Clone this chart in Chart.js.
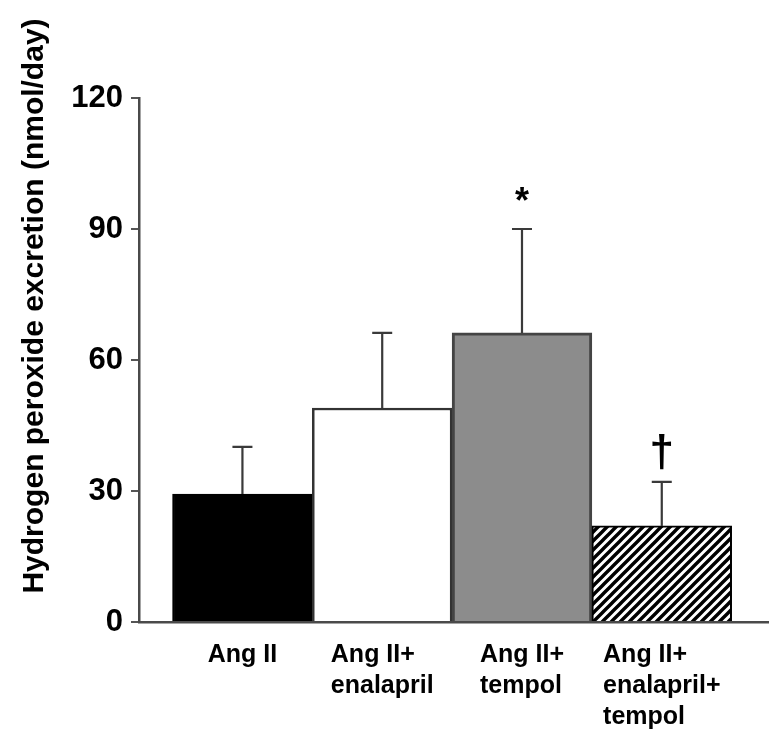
<!DOCTYPE html>
<html>
<head>
<meta charset="utf-8">
<script src="https://cdn.jsdelivr.net/npm/chart.js@4"></script>
<style>
  html, body { margin: 0; padding: 0; background: #fff; }
  #wrap { width: 784px; height: 744px; }
</style>
</head>
<body>
<div id="wrap"><canvas id="c" width="784" height="744"></canvas></div>
<script>
// ---- data ----
const categories = [
  ['Ang II'],
  ['Ang II+', 'enalapril'],
  ['Ang II+', 'tempol'],
  ['Ang II+', 'enalapril+', 'tempol']
];
const positions = [0, 1, 2, 3];
const means = [29.3, 49.0, 66.2, 22.0];
const errors = [10.8, 17.2, 23.8, 10.1];
const markers = ['', '', '*', '\u2020'];
const yTicks = [0, 30, 60, 90, 120];
const yTitle = 'Hydrogen peroxide excretion (nmol/day)';

// hatch pattern for last bar
function hatch() {
  const s = 9;
  const p = document.createElement('canvas');
  p.width = s; p.height = s;
  const g = p.getContext('2d');
  g.fillStyle = '#fff';
  g.fillRect(0, 0, s, s);
  g.strokeStyle = '#000';
  g.lineWidth = 3.4;
  g.beginPath();
  g.moveTo(-s, 2 * s); g.lineTo(2 * s, -s);
  g.moveTo(-s, s); g.lineTo(s, -s);
  g.moveTo(0, 2 * s); g.lineTo(2 * s, 0);
  g.stroke();
  return g.createPattern(p, 'repeat');
}
const ctx = document.getElementById('c').getContext('2d');
const fills = ['#000000', '#ffffff', '#8c8c8c', hatch()];
const borders = ['#000000', '#333333', '#444444', '#000000'];

const FONT = '"Liberation Sans", Arial, Helvetica, sans-serif';

function drawGlyph(c, txt, x, bottom) {
  const m = c.measureText(txt);
  c.textBaseline = 'alphabetic';
  c.fillText(txt, x, bottom - m.actualBoundingBoxDescent);
}

const extras = {
  id: 'extras',
  afterDatasetsDraw(chart) {
    const c = chart.ctx;
    const xs = chart.scales.x, ys = chart.scales.y;
    c.save();
    // error bars (upper only)
    c.strokeStyle = '#3a3a3a';
    c.lineWidth = 2.2;
    means.forEach((m, i) => {
      const x = xs.getPixelForValue(positions[i]);
      const y0 = ys.getPixelForValue(m);
      const y1 = ys.getPixelForValue(m + errors[i]);
      c.beginPath();
      c.moveTo(x, y0); c.lineTo(x, y1);
      c.moveTo(x - 10, y1); c.lineTo(x + 10, y1);
      c.stroke();
      if (markers[i]) {
        c.fillStyle = '#000';
        c.textAlign = 'center';
        if (markers[i] === '*') {
          c.font = 'bold 36px ' + FONT;
          drawGlyph(c, markers[i], x, y1 - 28);
        } else {
          c.font = 'bold 44px ' + FONT;
          drawGlyph(c, markers[i], x, y1 - 12);
        }
      }
    });
    // x category labels: block centered, lines left aligned
    c.fillStyle = '#000';
    c.font = 'bold 25px ' + FONT;
    c.textAlign = 'left';
    c.textBaseline = 'alphabetic';
    categories.forEach((lines, i) => {
      const x = xs.getPixelForValue(positions[i]);
      const w = Math.max(...lines.map(l => c.measureText(l).width));
      lines.forEach((l, k) => c.fillText(l, x - w / 2, 662 + k * 31));
    });
    // y title
    c.translate(43, 306);
    c.rotate(-Math.PI / 2);
    c.font = 'bold 30px ' + FONT;
    c.textAlign = 'center';
    c.textBaseline = 'alphabetic';
    c.fillText(yTitle, 0, 0);
    c.restore();
  }
};

new Chart(ctx, {
  type: 'bar',
  data: {
    datasets: [{
      data: positions.map((p, i) => ({ x: p, y: means[i] })),
      backgroundColor: fills,
      borderColor: borders,
      borderWidth: [2, 2.5, 3, 2],
      borderSkipped: 'bottom',
      barPercentage: 1,
      categoryPercentage: 1
    }]
  },
  options: {
    responsive: false,
    animation: false,
    devicePixelRatio: 1,
    layout: { padding: { top: 98, right: 16, left: 0, bottom: 0 } },
    plugins: { legend: { display: false }, tooltip: { enabled: false } },
    scales: {
      x: {
        type: 'linear',
        offset: false,
        min: -0.74,
        max: 3.76,
        afterBuildTicks(s) { s.ticks = positions.map(v => ({ value: v })); },
        grid: { display: false },
        border: { display: true, color: '#4a4a4a', width: 2.5 },
        ticks: { display: false },
        afterFit(s) { s.height = 744 - 622; }
      },
      y: {
        min: 0,
        max: 120,
        afterBuildTicks(s) { s.ticks = yTicks.map(v => ({ value: v })); },
        grid: { drawOnChartArea: false, drawTicks: true, tickLength: 8, color: '#555', lineWidth: 2 },
        border: { display: true, color: '#4a4a4a', width: 2.5 },
        ticks: {
          color: '#000',
          padding: 8,
          font: { family: FONT, size: 31, weight: 'bold' }
        },
        afterFit(s) { s.width = 139; }
      }
    }
  },
  plugins: [extras]
});
</script>
</body>
</html>
